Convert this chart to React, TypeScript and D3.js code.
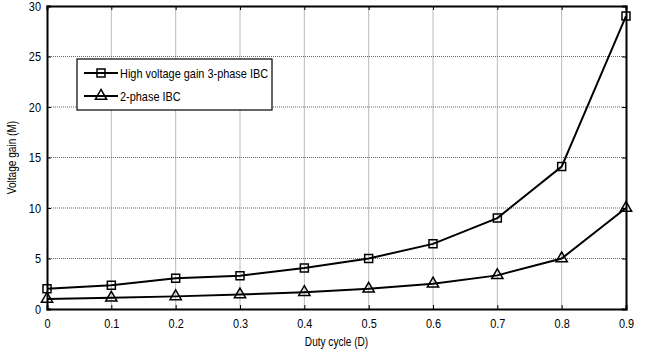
import { useRef, useEffect } from "react";
import * as d3 from "d3";

const duty = [0, 0.1, 0.2, 0.3, 0.4, 0.5, 0.6, 0.7, 0.8, 0.9];
const gainHigh = [2, 2.35, 3.05, 3.3, 4.05, 5, 6.45, 9, 14.1, 29];
const gain2Phase = [1, 1.11, 1.25, 1.43, 1.67, 2, 2.5, 3.33, 5, 10];
const xTicks = [0, 0.1, 0.2, 0.3, 0.4, 0.5, 0.6, 0.7, 0.8, 0.9];
const yTicks = [0, 5, 10, 15, 20, 25, 30];
const seriesNames = ["High voltage gain 3-phase IBC", "2-phase IBC"];

const W = 645;
const H = 356;
const margin = { top: 6, right: 19, bottom: 47, left: 47 };
const font = "'Liberation Sans', Arial, sans-serif";

const App = () => {
  const svgRef = useRef(null);

  useEffect(() => {
    const svg = d3.select(svgRef.current);
    svg.selectAll("*").remove();
    const innerW = W - margin.left - margin.right;
    const innerH = H - margin.top - margin.bottom;

    const g = svg
      .append("g")
      .attr("transform", `translate(${margin.left},${margin.top})`);

    const x = d3.scaleLinear().domain([0, 0.9]).range([0, innerW]);
    const y = d3.scaleLinear().domain([0, 30]).range([innerH, 0]);

    g.append("rect")
      .attr("width", innerW)
      .attr("height", innerH)
      .attr("fill", "#fff");

    // grid
    g.selectAll(".vgrid")
      .data(xTicks.slice(1, -1))
      .enter()
      .append("line")
      .attr("x1", (d) => x(d))
      .attr("x2", (d) => x(d))
      .attr("y1", 0)
      .attr("y2", innerH)
      .attr("stroke", "#bbb")
      .attr("stroke-width", 1);
    g.selectAll(".hgrid")
      .data(yTicks.slice(1, -1))
      .enter()
      .append("line")
      .attr("x1", 0)
      .attr("x2", innerW)
      .attr("y1", (d) => y(d))
      .attr("y2", (d) => y(d))
      .attr("stroke", "#666")
      .attr("stroke-width", 1)
      .attr("stroke-dasharray", "1,1");

    // axes with inward ticks
    const xAxis = g
      .append("g")
      .attr("transform", `translate(0,${innerH})`)
      .call(d3.axisBottom(x).tickValues(xTicks).tickSize(-4).tickPadding(10).tickFormat(d3.format("")));
    const yAxis = g
      .append("g")
      .call(d3.axisLeft(y).tickValues(yTicks).tickSize(-4).tickPadding(6));
    g.append("g")
      .call(d3.axisTop(x).tickValues(xTicks).tickSize(-4).tickFormat(() => ""));
    g.append("g")
      .attr("transform", `translate(${innerW},0)`)
      .call(d3.axisRight(y).tickValues(yTicks).tickSize(-4).tickFormat(() => ""));

    g.selectAll(".domain").attr("stroke", "#000").attr("stroke-width", 2);
    g.selectAll(".tick line").attr("stroke", "#000");
    [xAxis, yAxis].forEach((a) =>
      a.selectAll("text").attr("font-family", font).attr("font-size", 13).attr("fill", "#000")
    );

    const line = d3
      .line<number>()
      .x((_, i) => x(duty[i]))
      .y((d) => y(d));

    const square = d3.symbol().type(d3.symbolSquare).size(64);
    const triangle = d3.symbol().type(d3.symbolTriangle).size(55);

    [gainHigh, gain2Phase].forEach((vals, k) => {
      g.append("path")
        .attr("d", line(vals))
        .attr("fill", "none")
        .attr("stroke", "#000")
        .attr("stroke-width", 2);
      g.selectAll(`.m${k}`)
        .data(vals)
        .enter()
        .append("path")
        .attr("d", k === 0 ? square() : triangle())
        .attr("transform", (d, i) => `translate(${x(duty[i])},${y(d)})`)
        .attr("fill", "none")
        .attr("stroke", "#000")
        .attr("stroke-width", 1.5);
    });

    // legend
    const lg = g.append("g").attr("transform", `translate(${77 - margin.left},${59 - margin.top})`);
    lg.append("rect")
      .attr("width", 195)
      .attr("height", 51)
      .attr("fill", "#fff")
      .attr("stroke", "#000")
      .attr("stroke-width", 1.2);
    seriesNames.forEach((name, k) => {
      const cy = 14 + k * 23;
      lg.append("line")
        .attr("x1", 7)
        .attr("x2", 41)
        .attr("y1", cy)
        .attr("y2", cy)
        .attr("stroke", "#000")
        .attr("stroke-width", 2);
      lg.append("path")
        .attr("d", k === 0 ? square() : triangle())
        .attr("transform", `translate(24,${cy})`)
        .attr("fill", "none")
        .attr("stroke", "#000")
        .attr("stroke-width", 1.5);
      lg.append("text")
        .attr("x", 43)
        .attr("y", cy + 4.5)
        .attr("font-family", font)
        .attr("font-size", 13)
        .text(name);
    });

    // axis labels
    svg
      .append("text")
      .attr("x", margin.left + innerW / 2)
      .attr("y", 346)
      .attr("text-anchor", "middle")
      .attr("font-family", font)
      .attr("font-size", 12)
      .text("Duty cycle (D)");
    svg
      .append("text")
      .attr("transform", `translate(16,${margin.top + innerH / 2}) rotate(-90)`)
      .attr("text-anchor", "middle")
      .attr("font-family", font)
      .attr("font-size", 12)
      .text("Voltage gain (M)");

    // condense text to mimic narrow font
    svg.selectAll("text").each(function () {
      const el = this as SVGTextElement;
      const len = el.getComputedTextLength();
      el.setAttribute("textLength", String(len * 0.84));
      el.setAttribute("lengthAdjust", "spacingAndGlyphs");
    });
  }, []);

  return <svg ref={svgRef} width={W} height={H} style={{ position: "absolute", left: 0, top: 0 }}></svg>;
};

export default App;
